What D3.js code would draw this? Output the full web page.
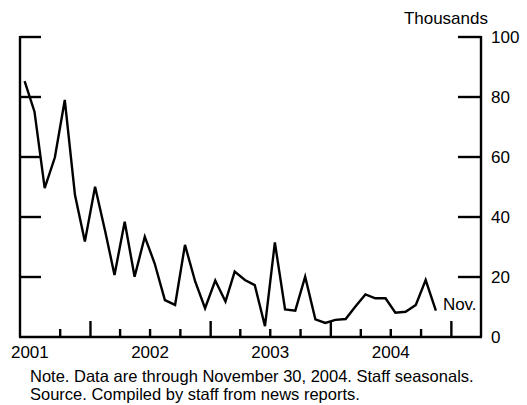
<!DOCTYPE html>
<html>
<head>
<meta charset="utf-8">
<script src="https://cdn.jsdelivr.net/npm/d3@7"></script>
<style>
  html, body { margin: 0; padding: 0; background: #fff; }
  svg { display: block; font-family: "Liberation Sans", Arial, Helvetica, sans-serif; }
</style>
</head>
<body>
<svg id="chart" width="527" height="405"></svg>
<script>
/* Monthly series, Jun 2001 - Nov 2004, thousands */
var START = [2001, 5];
var values = [85.3, 75.1, 49.6, 59.9, 79, 47.3, 31.8,
  50.1, 35.1, 20.7, 38.4, 20.1, 33.4, 24.5, 12.3, 10.7, 30.7, 18.5, 9.6,
  18.8, 11.8, 21.8, 19, 17.3, 3.6, 31.5, 9.2, 8.8, 20.1, 5.9, 4.7,
  5.7, 6, 10.1, 14.2, 12.9, 12.9, 8.1, 8.4, 10.7, 19, 8.8];
var yTicks = [0, 20, 40, 60, 80, 100];
var years = [2001, 2002, 2003, 2004];
var unitLabel = 'Thousands';
var endLabel = 'Nov.';
var notes = ['Note. Data are through November 30, 2004. Staff seasonals.',
  'Source. Compiled by staff from news reports.'];

var svg = d3.select('#chart');
var L = 20, R = 481, T = 37, B = 337, FS = 17, SW = 2.4;

var data = values.map(function (v, i) { return { date: new Date(START[0], START[1] + i, 15), value: v }; });

var x = d3.scaleTime().domain([new Date(2001, 5, 1), new Date(2005, 3, 1)]).range([L, R]);
var y = d3.scaleLinear().domain([0, 100]).range([B, T]);

// ---- axes ----
var ax = svg.append('g').attr('stroke', '#000').attr('stroke-width', SW).attr('fill', 'none');
ax.append('line').attr('x1', L).attr('x2', L).attr('y1', y(100) - 1).attr('y2', B);
ax.append('line').attr('x1', R).attr('x2', R).attr('y1', y(100) - 1).attr('y2', B);
ax.append('line').attr('x1', L - 1).attr('x2', R + 1).attr('y1', B).attr('y2', B);

var inner = yTicks.filter(function (d) { return d > 0; });
ax.selectAll('.tl').data(inner).enter().append('line')
  .attr('x1', L).attr('x2', L + 21).attr('y1', y).attr('y2', y);
ax.selectAll('.tr').data(inner).enter().append('line')
  .attr('x1', R - 23).attr('x2', R).attr('y1', y).attr('y2', y);

var qTicks = d3.timeMonths(new Date(2001, 9, 1), new Date(2005, 1, 1), 3);
ax.selectAll('.tb').data(qTicks).enter().append('line')
  .attr('x1', x).attr('x2', x).attr('y1', B)
  .attr('y2', function (d) { return d.getMonth() === 0 ? B - 16 : B - 8; });

// ---- labels ----
var txt = svg.append('g').attr('font-size', FS).attr('fill', '#000');
txt.selectAll('.yl').data(yTicks).enter().append('text')
  .attr('x', R + 10).attr('y', function (d) { return y(d) + 6; }).text(function (d) { return d; });
txt.append('text').attr('x', 488).attr('y', 24).attr('text-anchor', 'end').text(unitLabel);
txt.selectAll('.xl').data(years).enter().append('text')
  .attr('x', function (d) { return x(new Date(d, 6, 1)); }).attr('y', 358)
  .attr('text-anchor', 'middle').text(function (d) { return d; });
// notes: a touch smaller so the two lines do not collide
txt.selectAll('.nt').data(notes).enter().append('text')
  .attr('font-size', 16.5)
  .attr('x', 30).attr('y', function (d, i) { return 381.5 + i * 18.5; }).text(function (d) { return d; });

var last = data[data.length - 1];
txt.append('text').attr('x', x(last.date) + 7).attr('y', 310).text(endLabel);

// ---- series ----
var line = d3.line().x(function (d) { return x(d.date); }).y(function (d) { return y(d.value); });
svg.append('path').datum(data).attr('d', line)
  .attr('fill', 'none').attr('stroke', '#000').attr('stroke-width', SW).attr('stroke-linejoin', 'miter');
</script>
</body>
</html>
